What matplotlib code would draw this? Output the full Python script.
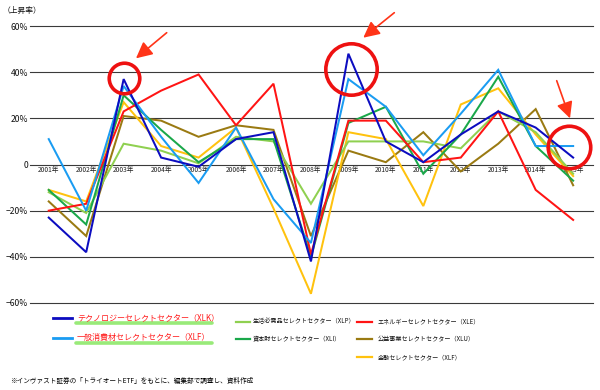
import matplotlib
matplotlib.use("Agg")
import matplotlib.pyplot as plt

plt.rcParams['font.family'] = ['Noto Sans CJK JP', 'DejaVu Sans']

years = list(range(2001, 2016))
xlk = [-23, -38, 37, 3, -1, 11, 14, -42, 48, 10, 1, 13, 23, 16, 3]
xly = [11, -20, 34, 12, -8, 16, -15, -34, 37, 25, 4, 22, 41, 8, 8]
xlp = [-12, -21, 9, 6, 0.5, 12, 10, -17, 10, 10, 10, 7, 23, 14, -4]
xli = [-11, -26, 30, 15, 1, 11, 11, -40, 18, 25, -4, 13, 38, 8, -7]
xle = [-20, -17, 23, 32, 39, 17, 35, -39, 19, 19, 1, 3, 23, -11, -24]
xlu = [-16, -31, 21, 19, 12, 17, 15, -31, 6, 1, 14, -3, 9, 24, -9]
xlf = [-11, -16, 27, 8, 3, 16, -19, -56, 14, 11, -18, 26, 33, 13, -5]

yticks = [60, 40, 20, 0, -20, -40, -60]
ytick_labels = ["60%", "40%", "20%", "0", "−20%", "−40%", "−60%"]

names_main = ["テクノロジーセレクトセクター（XLK）", "一般消費材セレクトセクター（XLF）"]
names_sub1 = ["生活必需品セレクトセクター（XLP）", "資本財セレクトセクター（XLI）"]
names_sub2 = ["エネルギーセレクトセクター（XLE）", "公益事業セレクトセクター（XLU）", "金融セレクトセクター（XLF）"]

c_xlk = "#0c0cc0"
c_xly = "#1a9cf2"
c_xlp = "#8fd050"
c_xli = "#1aa84a"
c_xle = "#ff1414"
c_xlu = "#9a7a12"
c_xlf = "#ffc20e"

W, H = 600, 390
fig = plt.figure(figsize=(6, 3.9), dpi=100)
ax = fig.add_axes([30 / W, 1 - 303 / H, 563 / W, 277 / H])
ax.set_xlim(2000.5, 2015.53)
ax.set_ylim(-60, 60)
for s in ax.spines.values():
    s.set_visible(False)
for v in yticks:
    ax.axhline(v, color="#3a3a3a", lw=0.8, zorder=1, clip_on=False)
ax.set_yticks(yticks)
ax.set_yticklabels(ytick_labels, fontsize=6.2, color="#111")
ax.tick_params(axis='y', length=0, pad=1.5)
ax.set_xticks([])

for yr in years:
    ax.annotate(f"{yr}年", (yr, 0), xytext=(0, -3.8), textcoords='offset points',
                ha='center', va='center', fontsize=4.8, color="#222", zorder=2)

series = [(xlu, c_xlu), (xlf, c_xlf), (xlp, c_xlp), (xli, c_xli), (xle, c_xle), (xly, c_xly), (xlk, c_xlk)]
for vals, col in series:
    ax.plot(years, vals, color=col, lw=1.45, zorder=3, solid_joinstyle='miter')

# red highlight circles
circles = [(2003.0, 37.5, 22), (2009.08, 41.3, 37), (2014.88, 7.6, 30.6)]
for cx, cy, d in circles:
    ax.plot([cx], [cy], 'o', mfc='none', mec='#ee1111', ms=d, mew=2.6, zorder=5, clip_on=False)

# arrows (figure pixels, y from top converted)
arrows = [((166.7, 32.7), (136, 58.3)), ((394.3, 12.7), (363.3, 37.7)), ((556.7, 80.7), (570, 118.3))]
for (sx, sy), (tx, ty) in arrows:
    ax.annotate('', xy=(tx, H - ty), xytext=(sx, H - sy), xycoords='figure pixels',
                textcoords='figure pixels',
                arrowprops=dict(arrowstyle='-|>,head_length=0.7,head_width=0.35',
                                color='#ff3418', lw=1.2, mutation_scale=14,
                                shrinkA=0, shrinkB=0), zorder=6)

fig.text(3 / W, 1 - 11 / H, "（上昇率）", fontsize=5.6, ha='left', va='center', color="#111")

def fx(x):
    return x / W

def fy(y):
    return 1 - y / H

main_rows = [317.5, 337.5]
for name, col, y in zip(names_main, [c_xlk, c_xly], main_rows):
    fig.lines.append(plt.Line2D([fx(76), fx(212)], [fy(y + 5.2), fy(y + 5.2)], transform=fig.transFigure,
                                color="#8ee86a", lw=2.6, alpha=0.9, solid_capstyle='round'))
    fig.lines.append(plt.Line2D([fx(53), fx(72)], [fy(y), fy(y)], transform=fig.transFigure,
                                color=col, lw=2.0))
    fig.text(fx(77), fy(y), name, fontsize=5.8, color="#ff1a1a", ha='left', va='center')

sub1_rows = [321.7, 339.3]
for name, col, y in zip(names_sub1, [c_xlp, c_xli], sub1_rows):
    fig.lines.append(plt.Line2D([fx(236), fx(250)], [fy(y), fy(y)], transform=fig.transFigure,
                                color=col, lw=1.6))
    fig.text(fx(253), fy(y), name, fontsize=4.4, color="#111", ha='left', va='center')

sub2_rows = [321.7, 339.3, 357]
for name, col, y in zip(names_sub2, [c_xle, c_xlu, c_xlf], sub2_rows):
    fig.lines.append(plt.Line2D([fx(357), fx(372)], [fy(y), fy(y)], transform=fig.transFigure,
                                color=col, lw=1.6))
    fig.text(fx(378), fy(y), name, fontsize=4.4, color="#111", ha='left', va='center')

fig.text(fx(10), fy(380.7), "※インヴァスト証券の「トライオートETF」をもとに、編集部で調査し、資料作成",
         fontsize=4.8, color="#000", ha='left', va='center')

fig.savefig("out.png", dpi=100)
